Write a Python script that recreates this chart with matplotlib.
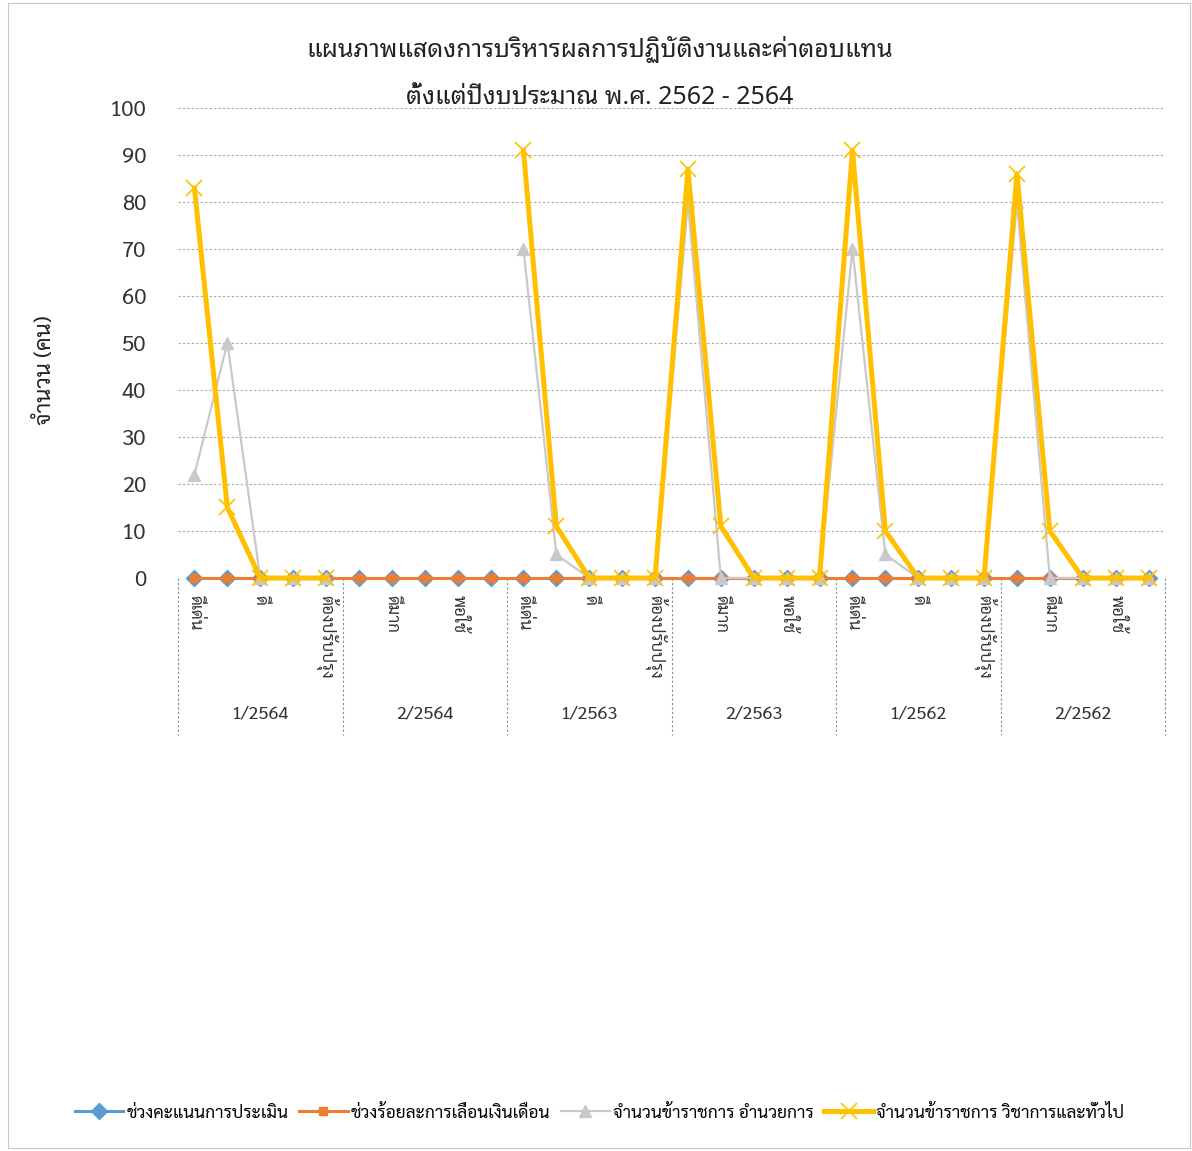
import numpy as np
import matplotlib
matplotlib.use("Agg")
import matplotlib.pyplot as plt
from matplotlib import font_manager
from matplotlib.lines import Line2D
from matplotlib.patches import Rectangle

# ---- data ---------------------------------------------------------------
title = "แผนภาพแสดงการบริหารผลการปฏิบัติงานและค่าตอบแทน\nตั้งแต่ปีงบประมาณ พ.ศ. 2562 - 2564"
y_label = "จำนวน (คน)"
levels = ["ดีเด่น", "ดีมาก", "ดี", "พอใช้", "ต้องปรับปรุง"]
periods = ["1/2564", "2/2564", "1/2563", "2/2563", "1/2562", "2/2562"]
series_names = [
    "ช่วงคะแนนการประเมิน",
    "ช่วงร้อยละการเลื่อนเงินเดือน",
    "จำนวนข้าราชการ อำนวยการ",
    "จำนวนข้าราชการ วิชาการและทั่วไป",
]
nan = np.nan
score_range = [0] * 30
raise_pct = [0] * 30
admin_staff = [22, 50, 0, 0, 0,
               nan, nan, nan, nan, nan,
               70, 5, 0, 0, 0,
               80, 0, 0, 0, 0,
               70, 5, 0, 0, 0,
               80, 0, 0, 0, 0]
general_staff = [83, 15, 0, 0, 0,
                 nan, nan, nan, nan, nan,
                 91, 11, 0, 0, 0,
                 87, 11, 0, 0, 0,
                 91, 10, 0, 0, 0,
                 86, 10, 0, 0, 0]
y_ticks = list(range(0, 101, 10))

# ---- fonts --------------------------------------------------------------
available = {f.name for f in font_manager.fontManager.ttflist}


def pick(cands):
    return [c for c in cands if c in available] + ["DejaVu Sans"]


title_font = pick(["Noto Sans Thai Looped", "Noto Sans Thai", "Sarabun", "Loma"])
body_font = pick(["Sarabun", "Noto Sans Thai", "Loma"])
plt.rcParams["font.family"] = body_font

# ---- figure -------------------------------------------------------------
W, H = 1192, 1151
fig = plt.figure(figsize=(W / 100, H / 100), dpi=100)
ax = fig.add_axes([178 / W, 1 - 578 / H, (1165 - 178) / W, (578 - 108) / H])

x = np.arange(len(levels) * len(periods))

c_blue, c_orange, c_gray, c_gold = "#5B9BD5", "#ED7D31", "#C9C9C9", "#FFC000"

ax.plot(x, score_range, color=c_blue, lw=2.2, marker="D", ms=8,
        mfc=c_blue, mec=c_blue, clip_on=False, zorder=3)
ax.plot(x, raise_pct, color=c_orange, lw=2.2, marker="s", ms=6,
        mfc=c_orange, mec=c_orange, clip_on=False, zorder=4)
ax.plot(x, admin_staff, color=c_gray, lw=1.6, marker="^", ms=9,
        mfc=c_gray, mec=c_gray, clip_on=False, zorder=5)
ax.plot(x, general_staff, color=c_gold, lw=3.6, marker="x", ms=12,
        mew=1.2, mec=c_gold, clip_on=False, zorder=6)

ax.set_xlim(-0.5, len(x) - 0.5)
ax.set_ylim(0, 100)
ax.set_yticks(y_ticks)
ax.tick_params(axis="y", length=0, pad=23, labelsize=16, labelcolor="#333333")

ax.grid(axis="y", color="#a8a8a8", lw=0.8, ls=(0, (2, 2)))
ax.set_axisbelow(True)
for s in ax.spines.values():
    s.set_visible(False)

# category labels: every second point, written top-to-bottom
tick_pos = x[::2]
ax.set_xticks(tick_pos)
ax.set_xticklabels([levels[i % len(levels)] for i in tick_pos],
                   rotation=-90, fontsize=12, va="top", ha="center",
                   color="#333333")
ax.tick_params(axis="x", length=0, pad=12)

# group separators and period labels below the category labels
trans = ax.get_xaxis_transform()
for k in range(len(periods) + 1):
    xs = k * len(levels) - 0.5
    ax.plot([xs, xs], [0, -0.335], transform=trans, color="#8a8a8a",
            lw=0.8, ls=(0, (2, 2)), clip_on=False)
for k, p in enumerate(periods):
    xc = k * len(levels) + (len(levels) - 1) / 2
    ax.text(xc, -0.29, p, transform=trans, ha="center", va="center",
            fontsize=13, color="#333333")

ax.set_ylabel(y_label, fontsize=16, labelpad=0, color="#222222")
ax.yaxis.set_label_coords(-0.124, 0.443)

fig.text(0.503, 1 - 73 / H, title, ha="center", va="center",
         fontsize=18, linespacing=2.15, family=title_font, color="#222222")

# legend
handles = [
    Line2D([], [], color=c_blue, lw=2.2, marker="D", ms=8),
    Line2D([], [], color=c_orange, lw=2.2, marker="s", ms=6),
    Line2D([], [], color=c_gray, lw=1.6, marker="^", ms=9),
    Line2D([], [], color=c_gold, lw=3.6, marker="x", ms=12, mew=1.2),
]
fig.legend(handles, series_names, loc="center", ncol=4,
           bbox_to_anchor=(0.503, 1 - 1113 / H), frameon=False,
           fontsize=12.5, handlelength=2.8, handletextpad=0.2,
           columnspacing=0.6)

fig.patches.append(Rectangle((8 / W, 3 / H), 1 - 10 / W, 1 - 6 / H,
                             transform=fig.transFigure, fill=False,
                             ec="#c8c8c8", lw=0.8))

fig.savefig("out.png", dpi=100, facecolor="white")
